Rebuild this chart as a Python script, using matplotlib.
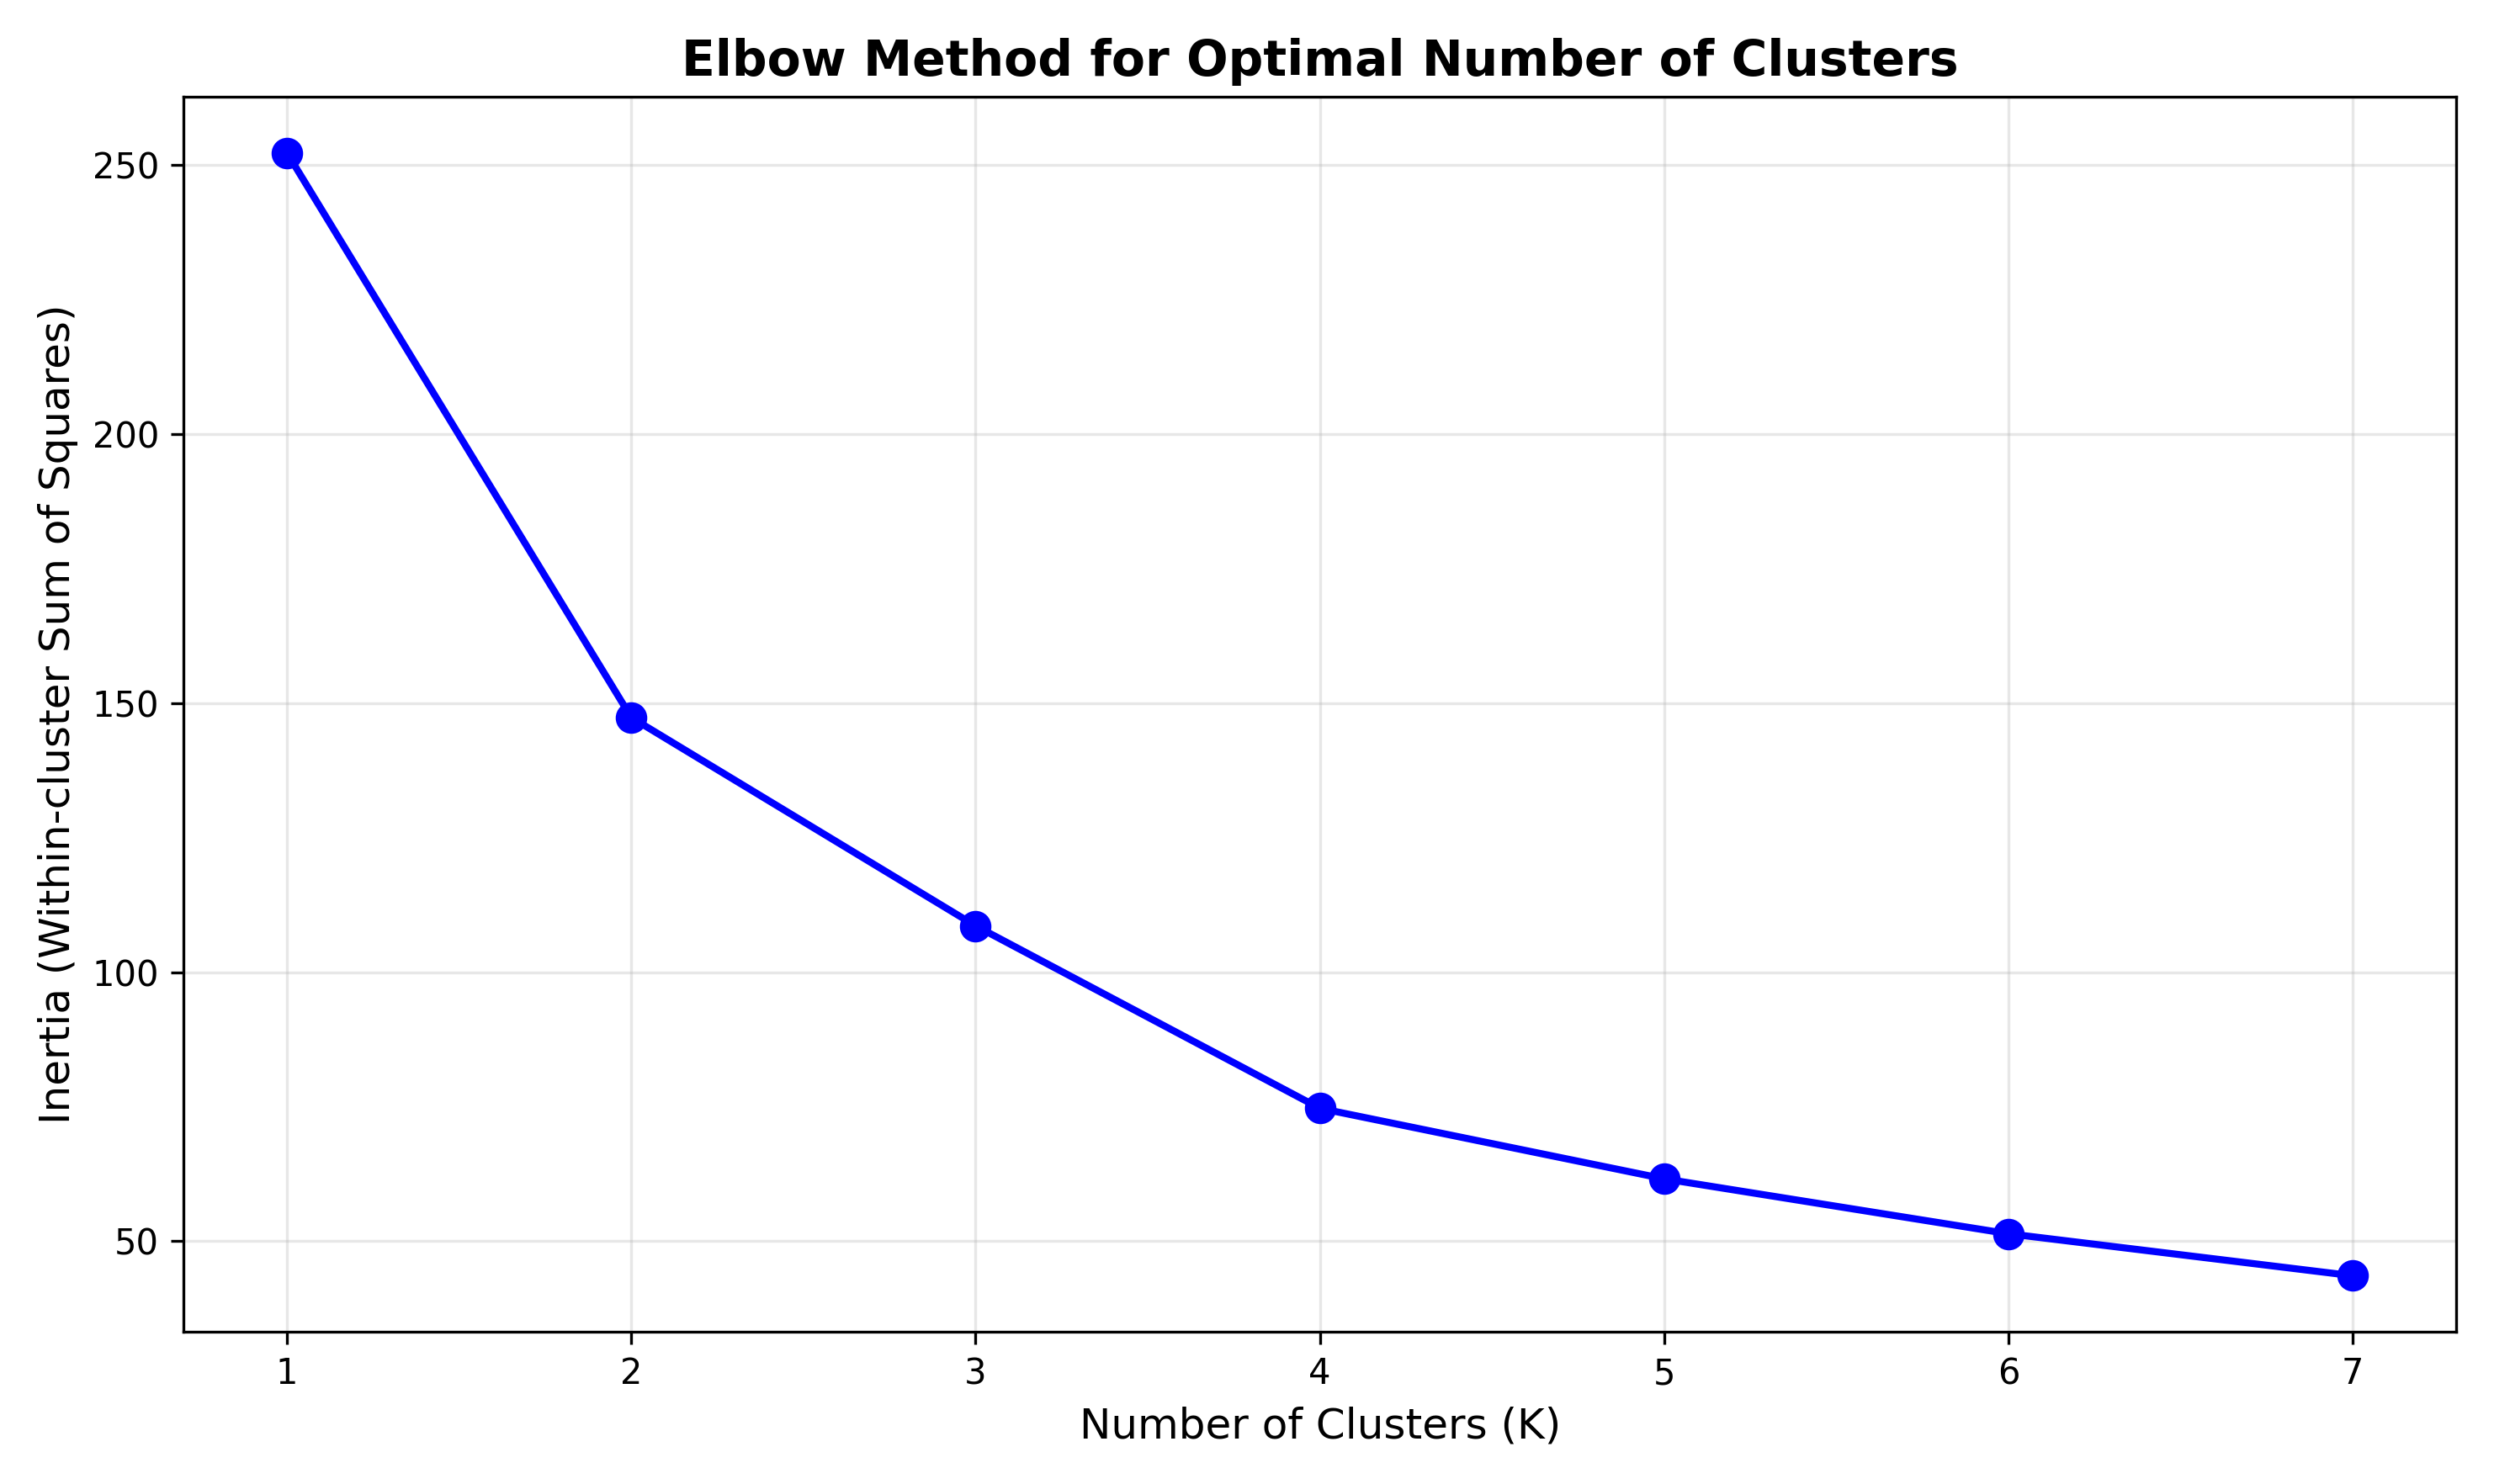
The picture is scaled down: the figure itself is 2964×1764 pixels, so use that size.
import matplotlib.pyplot as plt

# Elbow data
k_values = [1, 2, 3, 4, 5, 6, 7]
inertia = [252.2, 147.3, 108.6, 74.7, 61.6, 51.4, 43.6]

plt.figure(figsize=(9.88, 5.88), dpi=300)
plt.plot(k_values, inertia, marker='o', markersize=8, linestyle='-',
         linewidth=2, color='blue')

plt.title('Elbow Method for Optimal Number of Clusters', fontsize=14, fontweight='bold')
plt.xlabel('Number of Clusters (K)', fontsize=12)
plt.ylabel('Inertia (Within-cluster Sum of Squares)', fontsize=12)
plt.xticks(k_values)
plt.grid(True, alpha=0.3)

plt.tight_layout()
plt.savefig('out.png', dpi=300)
